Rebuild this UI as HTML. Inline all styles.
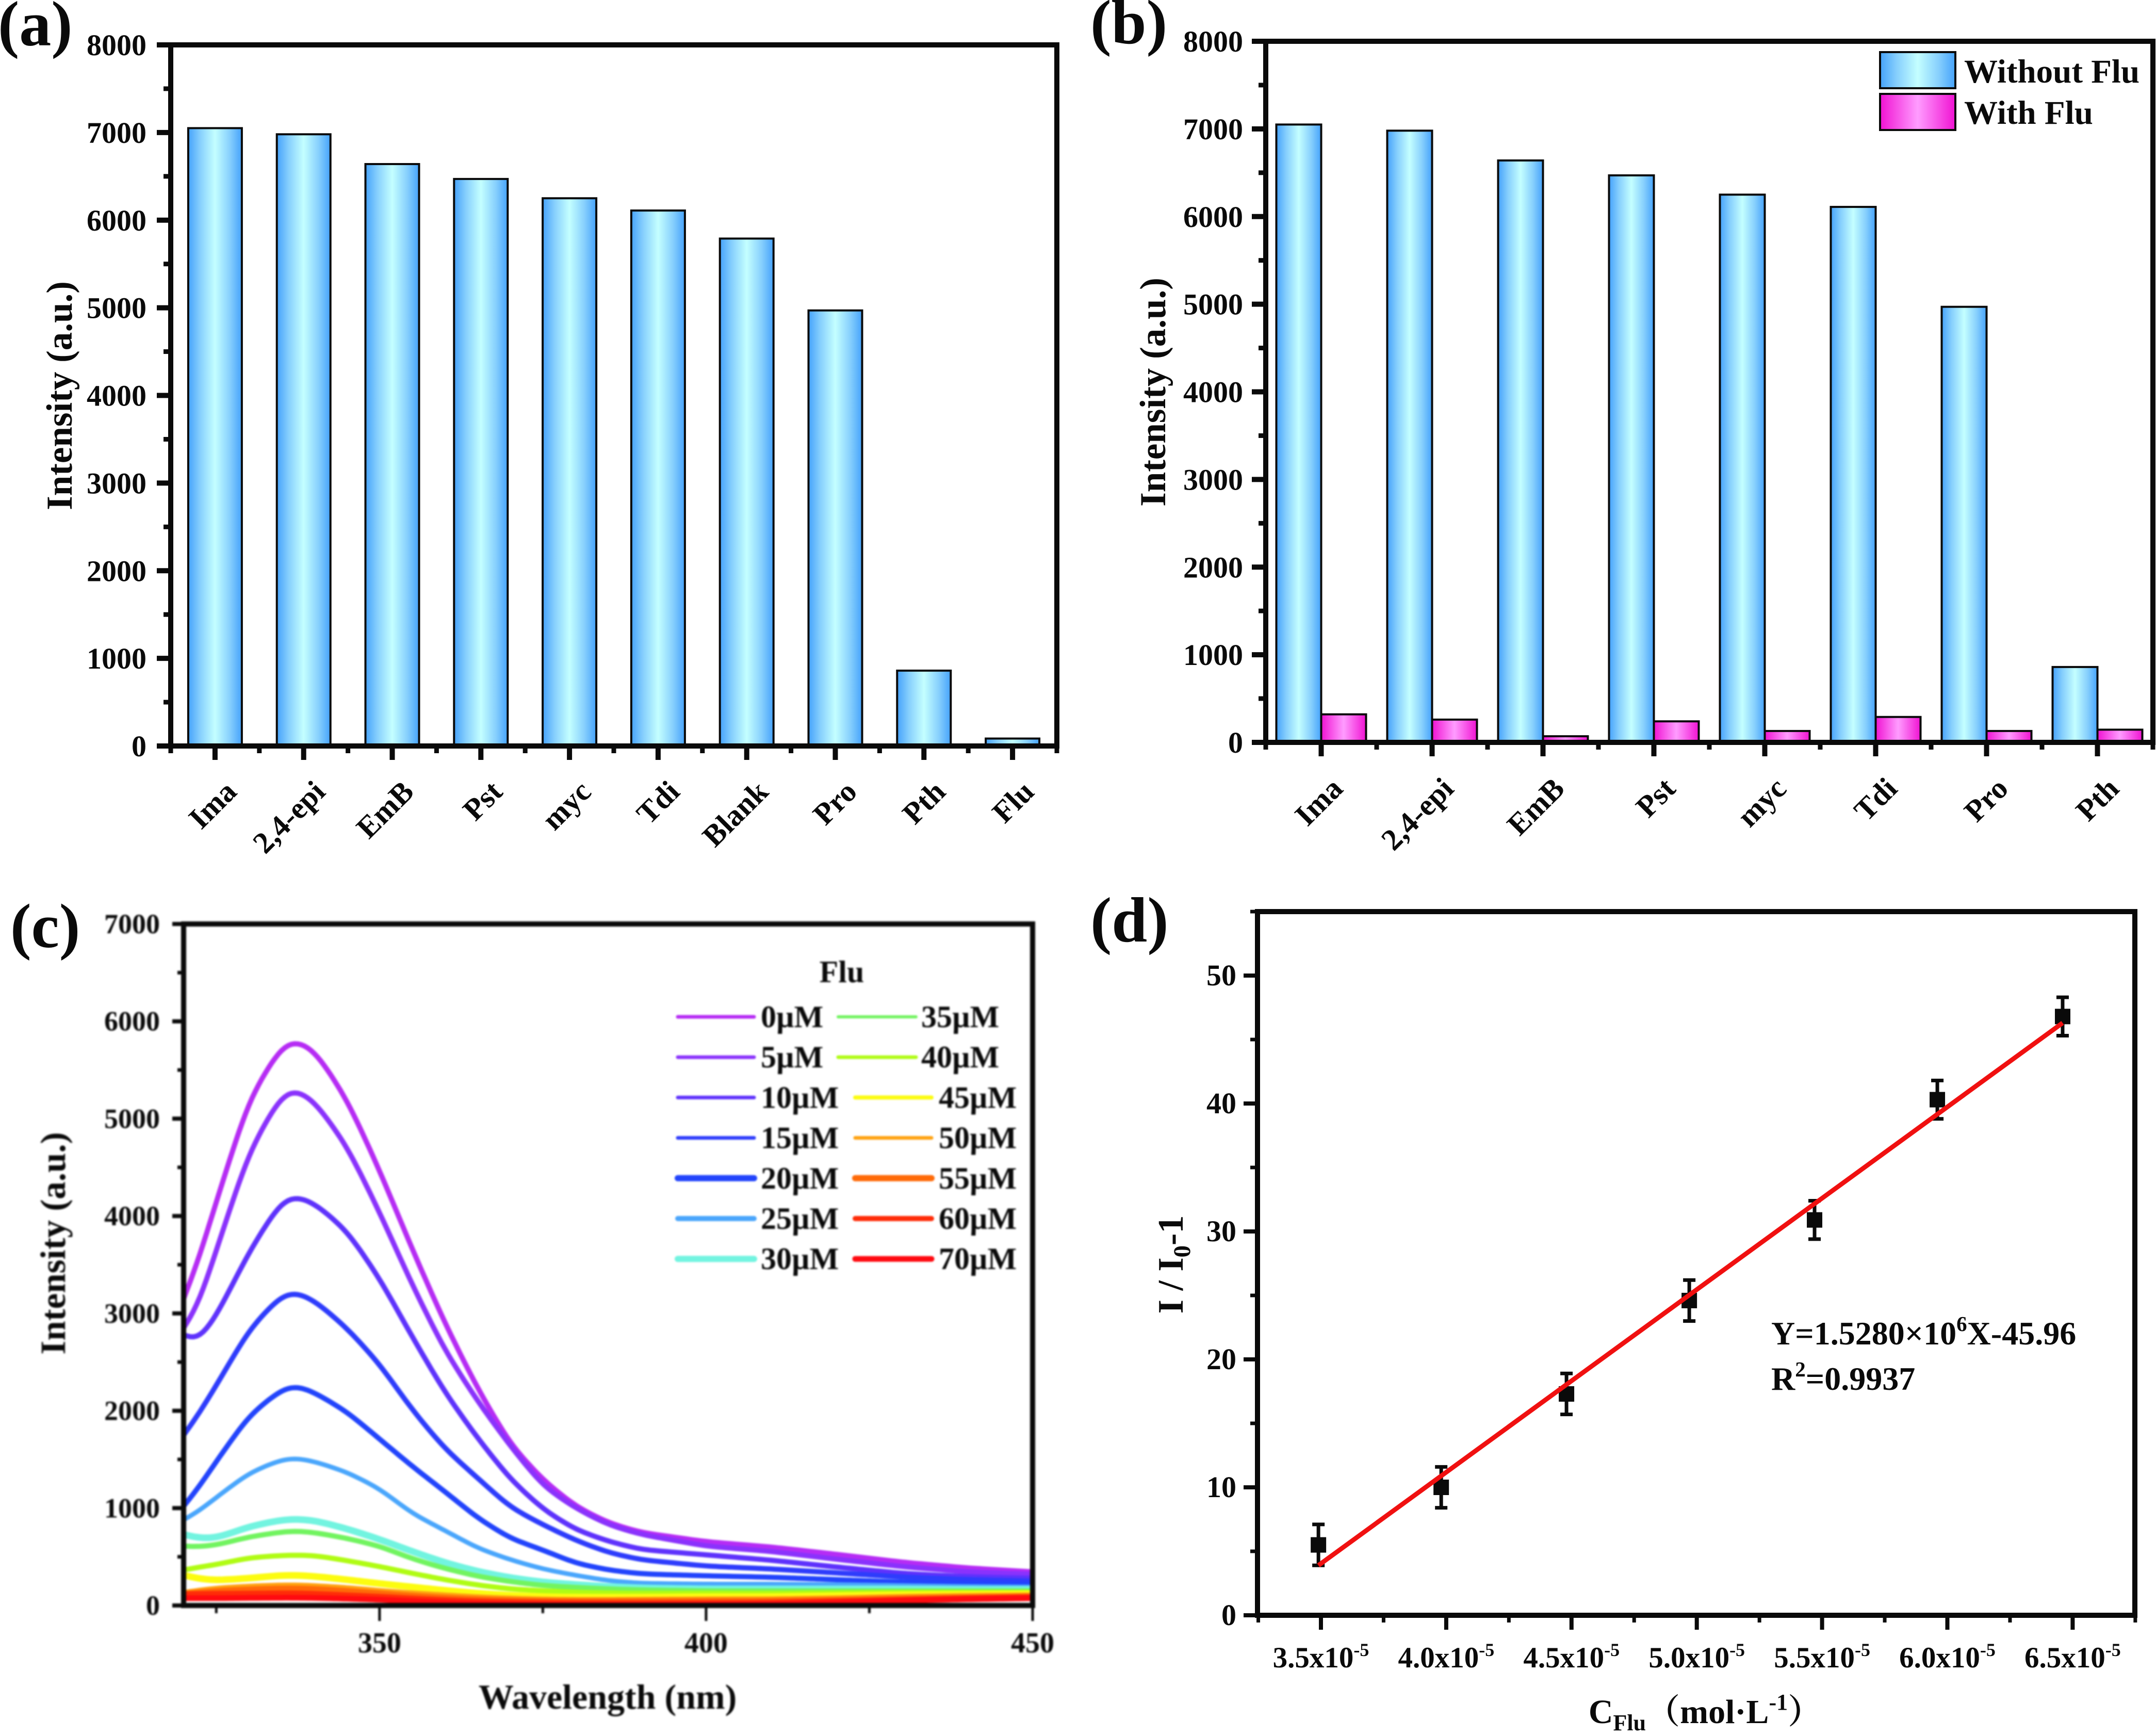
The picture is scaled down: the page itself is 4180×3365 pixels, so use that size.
<!DOCTYPE html>
<html lang="en">
<head>
<meta charset="utf-8">
<title>Fluorescence selectivity and titration figure</title>
<style>
html,body{margin:0;padding:0;background:#fff;}
svg{display:block;}
text{font-family:"Liberation Serif","Noto Serif CJK SC",serif;font-weight:bold;fill:#0a0a0a;}
</style>
</head>
<body>
<svg id="figure" xmlns="http://www.w3.org/2000/svg" width="4180" height="3365" viewBox="0 0 4180 3365">
  <defs>
    <linearGradient id="blueFill" x1="0" x2="1" y1="0" y2="0">
      <stop offset="0" stop-color="#45a2fb"/><stop offset="0.22" stop-color="#86cffd"/><stop offset="0.5" stop-color="#c4ffff"/><stop offset="0.78" stop-color="#86cffd"/><stop offset="1" stop-color="#45a2fb"/>
    </linearGradient>
    <linearGradient id="pinkFill" x1="0" x2="1" y1="0" y2="0">
      <stop offset="0" stop-color="#f012d2"/><stop offset="0.5" stop-color="#ff9cff"/><stop offset="1" stop-color="#f012d2"/>
    </linearGradient>
    <clipPath id="clipC"><rect x="356" y="1791" width="1646" height="1321"/></clipPath>
  </defs>
  <rect x="0" y="0" width="4180" height="3365" fill="#ffffff"/>

  <g id="panelA">
    <text x="-4" y="88" font-size="124">(a)</text>
    <text transform="translate(139 767) rotate(-90)" text-anchor="middle" font-size="71">Intensity (a.u.)</text>
  </g>

  <g id="panelB">
    <text x="2114" y="84" font-size="122">(b)</text>
    <text transform="translate(2259 760) rotate(-90)" text-anchor="middle" font-size="71">Intensity (a.u.)</text>
    <rect x="3645" y="101" width="146" height="70" fill="url(#blueFill)" stroke="#0a0a0a" stroke-width="4"/>
    <rect x="3645" y="182" width="146" height="70" fill="url(#pinkFill)" stroke="#0a0a0a" stroke-width="4"/>
    <text x="3808" y="160" font-size="65">Without Flu</text>
    <text x="3808" y="240" font-size="65">With Flu</text>
  </g>

  <g id="panelC" style="filter:blur(1.6px)">
    <text transform="translate(126 2410) rotate(-90)" text-anchor="middle" font-size="69">Intensity (a.u.)</text>
    <text x="1178" y="3312" text-anchor="middle" font-size="68">Wavelength (nm)</text>
    <text x="1632" y="1904" text-anchor="middle" font-size="60">Flu</text>
  </g>
  <text x="20" y="1836" font-size="122">(c)</text>

  <g id="panelD">
    <text x="2114" y="1825" font-size="124">(d)</text>
    <text transform="translate(2293 2451) rotate(-90)" text-anchor="middle" font-size="70">I / I<tspan font-size="47" dy="14">0</tspan><tspan dy="-14">-1</tspan></text>
    <text x="3306" y="3340" text-anchor="middle" font-size="66">C<tspan font-size="44" dy="14">Flu</tspan><tspan dy="-14">（mol·L</tspan><tspan font-size="44" dy="-26">-1</tspan><tspan dy="26">）</tspan></text>
    <text x="3434" y="2606" font-size="64">Y=1.5280×10<tspan font-size="41" dy="-26">6</tspan><tspan dy="26">X-45.96</tspan></text>
    <text x="3434" y="2694" font-size="64">R<tspan font-size="41" dy="-26">2</tspan><tspan dy="26">=0.9937</tspan></text>
  </g>
</svg>

<script>
// ---------- Panel (a) data ----------
const aCategories = ['Ima','2,4-epi','EmB','Pst','myc','Tdi','Blank','Pro','Pth','Flu'];
const aValues = [7050,6980,6640,6470,6250,6110,5790,4970,860,85];
const intensityTicks = [0,1000,2000,3000,4000,5000,6000,7000,8000];
const intensityMinorTicks = [500,1500,2500,3500,4500,5500,6500,7500];

// ---------- Panel (b) data ----------
const bCategories = ['Ima','2,4-epi','EmB','Pst','myc','Tdi','Pro','Pth'];
const bWithoutFlu = [7050,6980,6640,6470,6250,6110,4970,860];
const bWithFlu = [320,260,70,240,130,290,130,145];

// ---------- Panel (c) data ----------
const cWavelengths = [320,322,325,330,335,337,340,345,350,355,360,365,370,375,380,385,390,400,410,420,430,440,450];
const cConc0  = [3150,3480,4150,5195,5750,5815,5710,5200,4470,3660,2900,2230,1660,1290,1020,850,750,655,600,525,445,385,345];
const cConc5  = [2850,3020,3650,4655,5250,5315,5185,4720,4040,3294,2620,2100,1640,1230,1000,830,730,610,555,475,400,345,320];
const cConc10 = [2780,2680,2970,3630,4160,4215,4135,3850,3360,2760,2190,1720,1300,990,780,660,575,520,465,395,330,295,280];
const cConc15 = [1750,1930,2260,2830,3190,3230,3135,2850,2480,2010,1610,1310,1010,830,670,545,470,405,375,335,293,265,250];
const cConc20 = [1020,1180,1480,1950,2220,2270,2190,1990,1710,1430,1170,900,690,570,435,365,325,305,290,265,240,225,215];
const cConc25 = [880,950,1110,1360,1500,1520,1480,1370,1200,945,770,590,470,375,310,255,228,220,220,215,205,195,190];
const cConc30 = [730,690,690,810,880,890,875,788,680,555,440,350,285,240,215,195,180,170,170,170,170,165,165];
const cConc35 = [610,600,620,705,755,768,750,690,610,480,380,300,245,205,185,170,160,150,150,150,150,150,150];
const cConc40 = [365,390,420,490,514,518,514,461,400,330,265,210,170,150,135,128,125,127,125,130,135,135,135];
const cConc45 = [312,275,258,280,310,312,300,265,225,190,155,125,105,90,85,85,85,90,90,100,110,115,120];
const cConc50 = [130,150,175,195,207,208,200,180,150,125,105,85,72,62,58,58,60,64,65,75,90,100,105];
const cConc55 = [120,130,150,165,175,175,170,150,125,100,80,65,55,48,45,45,46,48,50,60,75,85,95];
const cConc60 = [115,118,120,122,125,125,120,105,90,72,55,42,35,30,27,26,26,27,30,45,60,75,85];
const cConc70 = [75,75,75,78,80,80,78,70,60,45,30,20,14,10,8,8,8,10,15,30,50,65,75];
const cSeries = [cConc0,cConc5,cConc10,cConc15,cConc20,cConc25,cConc30,cConc35,cConc40,cConc45,cConc50,cConc55,cConc60,cConc70];
const cSeriesLabels = ['0µM','5µM','10µM','15µM','20µM','25µM','30µM','35µM','40µM','45µM','50µM','55µM','60µM','70µM'];
const cXTicks = [350,400,450];
const cXMinorTicks = [325,375,425];
const cYTicks = [0,1000,2000,3000,4000,5000,6000,7000];
const cYMinorTicks = [500,1500,2500,3500,4500,5500,6500];

// ---------- Panel (d) data ----------
const dConcentrations = [3.49,3.98,4.48,4.97,5.47,5.96,6.46];
const dResponses = [5.5,10,17.3,24.6,30.9,40.3,46.8];
const dErrors = [1.6,1.6,1.6,1.6,1.5,1.5,1.5];
const dFitX = [3.49,6.46];
const dFitY = [3.9,46.3];
const dXTicks = [3.5,4.0,4.5,5.0,5.5,6.0,6.5];
const dXMinorTicks = [3.25,3.75,4.25,4.75,5.25,5.75,6.25,6.75];
const dYTicks = [0,10,20,30,40,50];
const dYMinorTicks = [5,15,25,35,45,55];

// ---------- Helpers ----------
const NS = 'http://www.w3.org/2000/svg';
const INK = '#0a0a0a';
function mk(parent, tag, attrs, text) {
  const el = document.createElementNS(NS, tag);
  for (const k in attrs) el.setAttribute(k, attrs[k]);
  if (text !== undefined) el.textContent = text;
  parent.appendChild(el);
  return el;
}
const panelA = document.getElementById('panelA');
const panelB = document.getElementById('panelB');
const panelC = document.getElementById('panelC');
const panelD = document.getElementById('panelD');

// ---------- Panel (a) ----------
const aBox = {l:331, r:2049, t:87, b:1446};
const aX = i => aBox.l + (i + 0.5) * (aBox.r - aBox.l) / aCategories.length;
const aY = v => aBox.b - v / 8000 * (aBox.b - aBox.t);
aValues.forEach((v, i) => {
  const bar = mk(panelA, 'rect', {x:aX(i)-52, y:aY(v), width:104, height:aBox.b-aY(v), fill:'url(#blueFill)', stroke:INK, 'stroke-width':4});
  
  
});
const aFrame = mk(panelA, 'rect', {x:aBox.l, y:aBox.t, width:aBox.r-aBox.l, height:aBox.b-aBox.t, fill:'none', stroke:INK, 'stroke-width':10});


intensityTicks.forEach(v => {
  const tick = mk(panelA, 'line', {x1:aBox.l-27, x2:aBox.l, y1:aY(v), y2:aY(v), stroke:INK, 'stroke-width':10});
  
  
  const lab = mk(panelA, 'text', {x:284, y:aY(v)+20, 'text-anchor':'end', 'font-size':58}, String(v));
  
  
});
intensityMinorTicks.forEach(v => {
  const tick = mk(panelA, 'line', {x1:aBox.l-14, x2:aBox.l, y1:aY(v), y2:aY(v), stroke:INK, 'stroke-width':9});
  
  
});
aCategories.forEach((c, i) => {
  const tick = mk(panelA, 'line', {x1:aX(i), x2:aX(i), y1:aBox.b, y2:aBox.b+27, stroke:INK, 'stroke-width':10});
  
  
  const lab = mk(panelA, 'text', {transform:'translate('+(aX(i)+45)+' 1538) rotate(-45)', 'text-anchor':'end', 'font-size':59}, c);
  
  
});
for (let i = 0; i <= aCategories.length; i++) {
  const tick = mk(panelA, 'line', {x1:aX(i-0.5), x2:aX(i-0.5), y1:aBox.b, y2:aBox.b+14, stroke:INK, 'stroke-width':9});
  
  
}

// ---------- Panel (b) ----------
const bBox = {l:2454, r:4174, t:80, b:1439};
const bX = i => bBox.l + (i + 0.5) * (bBox.r - bBox.l) / bCategories.length;
const bY = v => bBox.b - v / 8000 * (bBox.b - bBox.t);
bWithoutFlu.forEach((v, i) => {
  const bar = mk(panelB, 'rect', {x:bX(i)-87, y:bY(v), width:87, height:bBox.b-bY(v), fill:'url(#blueFill)', stroke:INK, 'stroke-width':4});
  
  
});
bWithFlu.forEach((v, i) => {
  const bar = mk(panelB, 'rect', {x:bX(i), y:bY(v), width:87, height:bBox.b-bY(v), fill:'url(#pinkFill)', stroke:INK, 'stroke-width':4});
  
  
});
const bFrame = mk(panelB, 'rect', {x:bBox.l, y:bBox.t, width:bBox.r-bBox.l, height:bBox.b-bBox.t, fill:'none', stroke:INK, 'stroke-width':10});


intensityTicks.forEach(v => {
  const tick = mk(panelB, 'line', {x1:bBox.l-27, x2:bBox.l, y1:bY(v), y2:bY(v), stroke:INK, 'stroke-width':10});
  
  
  const lab = mk(panelB, 'text', {x:2410, y:bY(v)+20, 'text-anchor':'end', 'font-size':58}, String(v));
  
  
});
intensityMinorTicks.forEach(v => {
  const tick = mk(panelB, 'line', {x1:bBox.l-14, x2:bBox.l, y1:bY(v), y2:bY(v), stroke:INK, 'stroke-width':9});
  
  
});
bCategories.forEach((c, i) => {
  const tick = mk(panelB, 'line', {x1:bX(i), x2:bX(i), y1:bBox.b, y2:bBox.b+27, stroke:INK, 'stroke-width':10});
  
  
  const lab = mk(panelB, 'text', {transform:'translate('+(bX(i)+45)+' 1532) rotate(-45)', 'text-anchor':'end', 'font-size':59}, c);
  
  
});
for (let i = 0; i <= bCategories.length; i++) {
  const tick = mk(panelB, 'line', {x1:bX(i-0.5), x2:bX(i-0.5), y1:bBox.b, y2:bBox.b+14, stroke:INK, 'stroke-width':9});
  
  
}

// ---------- Panel (c) ----------
const cColors = ['#b62cf4','#8a32fc','#5e32fc','#2e3cfc','#2244fc','#4aa6fc','#72f4e0','#72f460','#b0fc14','#fcfc10','#ffa210','#ff6a08','#ff2c08','#ff0a10'];
const cCurveWidths = [10,10,10,10,10,9,13,10,10,13,11,11,11,11];
const cLegendWidths = [7,7,7,7,12,10,12,6,7,8,7,12,10,11];
const cBox = {l:356, r:2002, t:1791, b:3112};
const cXAxis = w => cBox.l + (w - 320) / 130 * (cBox.r - cBox.l);
const cYAxis = v => cBox.b - v / 7000 * (cBox.b - cBox.t);
// Interpolate the read values and gently smooth them so the drawn curve has no corners.
function interp(xs, ys, w) {
  const first = xs[0], last = xs[xs.length - 1];
  if (w < first) return 2 * ys[0] - interp(xs, ys, 2 * first - w);
  if (w > last) return 2 * ys[ys.length - 1] - interp(xs, ys, 2 * last - w);
  for (let i = 0; i < xs.length - 1; i++) {
    if (w <= xs[i+1]) return ys[i] + (ys[i+1] - ys[i]) * (w - xs[i]) / (xs[i+1] - xs[i]);
  }
  return ys[ys.length - 1];
}
function smoothPath(xs, ys) {
  const sigma = 1.5;
  let d = '';
  for (let w = xs[0]; w <= xs[xs.length - 1]; w += 0.5) {
    let sum = 0, norm = 0;
    for (let k = -4.5; k <= 4.5; k += 0.25) {
      const g = Math.exp(-k * k / (2 * sigma * sigma));
      sum += g * interp(xs, ys, w + k);
      norm += g;
    }
    d += (d ? 'L' : 'M') + cXAxis(w).toFixed(1) + ' ' + cYAxis(sum / norm).toFixed(1);
  }
  return d;
}
const cCurves = mk(panelC, 'g', {'clip-path':'url(#clipC)'});


cSeries.forEach((vals, i) => {
  const curve = mk(cCurves, 'path', {d:smoothPath(cWavelengths, vals), fill:'none', stroke:cColors[i], 'stroke-width':cCurveWidths[i], 'stroke-linejoin':'round'});
  
  
});
const cFrame = mk(panelC, 'rect', {x:cBox.l, y:cBox.t, width:cBox.r-cBox.l, height:cBox.b-cBox.t, fill:'none', stroke:INK, 'stroke-width':10});


cYTicks.forEach(v => {
  const tick = mk(panelC, 'line', {x1:cBox.l-22, x2:cBox.l, y1:cYAxis(v), y2:cYAxis(v), stroke:INK, 'stroke-width':8});
  
  
  const lab = mk(panelC, 'text', {x:310, y:cYAxis(v)+18, 'text-anchor':'end', 'font-size':54}, String(v));
  
  
});
cYMinorTicks.forEach(v => {
  const tick = mk(panelC, 'line', {x1:cBox.l-12, x2:cBox.l, y1:cYAxis(v), y2:cYAxis(v), stroke:INK, 'stroke-width':7});
  
  
});
cXTicks.forEach(w => {
  const tick = mk(panelC, 'line', {x1:cXAxis(w), x2:cXAxis(w), y1:cBox.b, y2:cBox.b+30, stroke:INK, 'stroke-width':5});
  
  
  const lab = mk(panelC, 'text', {x:cXAxis(w), y:3203, 'text-anchor':'middle', 'font-size':56}, String(w));
  
  
});
cXMinorTicks.forEach(w => {
  const tick = mk(panelC, 'line', {x1:cXAxis(w), x2:cXAxis(w), y1:cBox.b, y2:cBox.b+15, stroke:INK, 'stroke-width':5});
  
  
});
cSeriesLabels.forEach((label, i) => {
  const col2 = i >= 7;
  const row = col2 ? i - 7 : i;
  const ly = 1971 + row * 78.2;
  const lx1 = !col2 ? 1314 : (row < 2 ? 1625 : 1658);
  const lx2 = !col2 ? 1462 : (row < 2 ? 1776 : 1806);
  const tx = !col2 ? 1475 : (row < 2 ? 1786 : 1820);
  const swatch = mk(panelC, 'line', {x1:lx1, x2:lx2, y1:ly, y2:ly, stroke:cColors[i], 'stroke-width':cLegendWidths[i], 'stroke-linecap':'round'});
  
  
  const lab = mk(panelC, 'text', {x:tx, y:ly+20, 'font-size':60}, label);
  
  
});

// ---------- Panel (d) ----------
const dBox = {l:2438, r:4139, t:1767, b:3131};
const dXAxis = x => 2561 + (x - 3.5) / 0.5 * 242.9;
const dYAxis = y => dBox.b - y / 55 * (dBox.b - dBox.t);
const dFrame = mk(panelD, 'rect', {x:dBox.l, y:dBox.t, width:dBox.r-dBox.l, height:dBox.b-dBox.t, fill:'none', stroke:INK, 'stroke-width':10});


dYTicks.forEach(v => {
  const tick = mk(panelD, 'line', {x1:dBox.l-27, x2:dBox.l, y1:dYAxis(v), y2:dYAxis(v), stroke:INK, 'stroke-width':8});
  
  
  const lab = mk(panelD, 'text', {x:2397, y:dYAxis(v)+19, 'text-anchor':'end', 'font-size':58}, String(v));
  
  
});
dYMinorTicks.forEach(v => {
  const tick = mk(panelD, 'line', {x1:dBox.l-14, x2:dBox.l, y1:dYAxis(v), y2:dYAxis(v), stroke:INK, 'stroke-width':7});
  
  
});
dXTicks.forEach(x => {
  const tick = mk(panelD, 'line', {x1:dXAxis(x), x2:dXAxis(x), y1:dBox.b, y2:dBox.b+28, stroke:INK, 'stroke-width':8});
  
  
  const lab = mk(panelD, 'text', {x:dXAxis(x), y:3232, 'text-anchor':'middle', 'font-size':57});
  
  
  mk(lab, 'tspan', {}, x.toFixed(1) + 'x10');
  mk(lab, 'tspan', {'font-size':36, dy:-22}, '-5');
});
dXMinorTicks.forEach(x => {
  const tick = mk(panelD, 'line', {x1:dXAxis(x), x2:dXAxis(x), y1:dBox.b, y2:dBox.b+14, stroke:INK, 'stroke-width':7});
  
  
});
dConcentrations.forEach((x, i) => {
  const y = dResponses[i], e = dErrors[i], cx = dXAxis(x);
  const bar = mk(panelD, 'path', {d:'M'+(cx-12)+' '+dYAxis(y+e)+'H'+(cx+12)+'M'+cx+' '+dYAxis(y+e)+'V'+dYAxis(y-e)+'M'+(cx-12)+' '+dYAxis(y-e)+'H'+(cx+12), fill:'none', stroke:INK, 'stroke-width':7});
  
  
  const pt = mk(panelD, 'rect', {x:cx-15, y:dYAxis(y)-15, width:30, height:30, fill:INK});
  
  
});
const fit = mk(panelD, 'line', {x1:dXAxis(dFitX[0]), y1:dYAxis(dFitY[0]), x2:dXAxis(dFitX[1]), y2:dYAxis(dFitY[1]), stroke:'#f01010', 'stroke-width':9});


</script>
</body>
</html>
